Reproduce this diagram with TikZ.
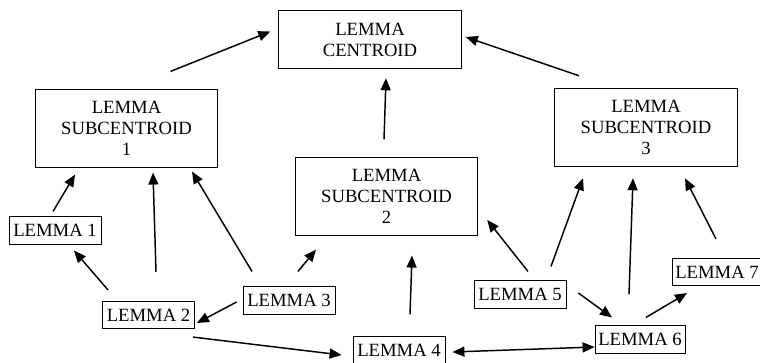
\documentclass[tikz,border=0pt]{standalone}
\usepackage{fontspec}
\setmainfont{Liberation Serif}
\usepackage{tikz}
\usetikzlibrary{positioning, calc, arrows.meta}

\begin{document}
\begin{tikzpicture}[x=0.75pt, y=-0.75pt,
	every node/.style={font=\fontsize{14}{15.8}\selectfont},
	bigbox/.style={draw, line width=0.6pt, inner sep=0pt, minimum width=137pt, minimum height=58pt, align=center},
	lem/.style={draw, line width=0.6pt, inner sep=0pt, minimum width=69pt, minimum height=20.5pt},
	arr/.style={line width=1.1pt, -{Triangle[length=9pt, width=7.5pt]}},
	]
	\useasboundingbox (0,0) rectangle (760,362);
	
	\node[bigbox, minimum height=44pt] (cen) at (370,39.5) {LEMMA\\CENTROID};
	\node[bigbox] (sub1) at (126.5,128.5) {LEMMA\\SUBCENTROID\\1};
	\node[bigbox] (sub2) at (386.5,196.5) {LEMMA\\SUBCENTROID\\2};
	\node[bigbox, minimum height=59pt] (sub3) at (646,127.5) {LEMMA\\SUBCENTROID\\3};
	
	\node[lem] (l1) at (55,230.5) {LEMMA 1};
	\node[lem] (l2) at (148.5,315) {LEMMA 2};
	\node[lem] (l3) at (289,300.5) {LEMMA 3};
	\node[lem] (l4) at (399,350.5) {LEMMA 4};
	\node[lem] (l5) at (520,294.5) {LEMMA 5};
	\node[lem, minimum width=67.5pt] (l6) at (640,339.5) {LEMMA 6};
	\node[lem, minimum width=67.5pt] (l7) at (717,272) {LEMMA 7};
	
	\draw[arr] ($(sub1.north)+(44,-18)$) -- ($(cen.west)+(-8,-8)$);
	\draw[arr] ($(sub3.north)+(-67,-12)$) -- ($(cen.east)+(4,-2.5)$);
	\draw[arr] ($(sub2.north)+(-2.5,-18)$) -- ($(cen.south)+(16,9)$);
	
	\draw[arr] ($(l1.north)+(-2,-5)$) -- ($(sub1.south)+(-51.5,7)$);
	\draw[arr] ($(l2.north)+(7.5,-29)$) -- ($(sub1.south)+(26.5,5)$);
	\draw[arr] ($(l3.north)+(-37,-15)$) -- ($(sub1.south)+(65.5,4)$);
	\draw[arr] ($(l2.north)+(-40.5,-11)$) -- ($(l1.south)+(19,6)$);
	\draw[arr] ($(l3.north)+(9,-15)$) -- ($(sub2.south)+(-70.5,14)$);
	\draw[arr] ($(l3.west)+(-6,1.5)$) -- ($(l2.east)+(2,8)$);
	\draw[arr] ($(l2.south)+(44.5,8)$) -- ($(l4.west)+(-11,4.5)$);
	\draw[arr] ($(l4.north)+(11,-22)$) -- ($(sub2.south)+(25.5,20)$);
	\draw[arr, {Triangle[length=9pt, width=7.5pt]}-{Triangle[length=9pt, width=7.5pt]}] ($(l4.east)+(7,1.5)$) -- ($(l6.west)+(0,7.5)$);
	
	\draw[arr] ($(l5.north)+(8,-9)$) -- ($(sub2.east)+(9,23.5)$);
	\draw[arr] ($(l5.north)+(31,-14)$) -- ($(sub3.south)+(-63,11)$);
	\draw[arr] ($(l6.north)+(-11,-31)$) -- ($(sub3.south)+(-13,11)$);
	\draw[arr] ($(l7.north)+(-1,-19)$) -- ($(sub3.south)+(39,11)$);
	\draw[arr] ($(l5.east)+(12,-1.5)$) -- ($(l6.north)+(-28,-8)$);
	\draw[arr] ($(l6.north)+(6,-8)$) -- ($(l7.south)+(-30,7)$);
\end{tikzpicture}
\end{document}
